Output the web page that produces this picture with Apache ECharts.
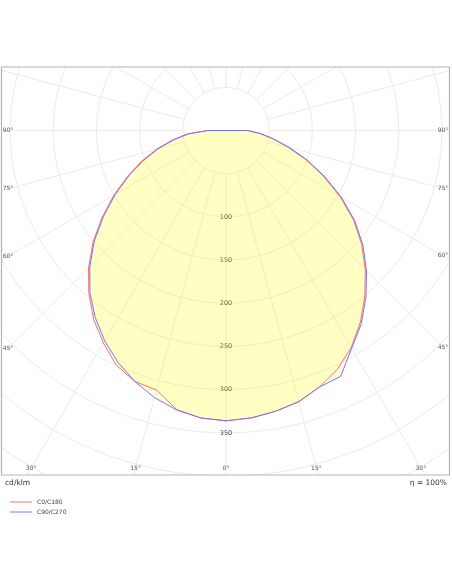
<!DOCTYPE html>
<html lang="en">
<head>
    <meta charset="UTF-8"/>
    <title>LVK</title>
    <script type="text/javascript" src="https://cdn.jsdelivr.net/npm/echarts@6/dist/echarts.min.js"></script>
    <style>
        html, body { margin: 0; padding: 0; background: #fff; }
        #main { width: 452px; height: 584px; }
    </style>
</head>
<body>
<div id="main"></div>
<script type="text/javascript">
    // gamma angles from nadir, one value per 5 degrees
    var gamma = [0, 5, 10, 15, 20, 25, 30, 35, 40, 45, 50, 55, 60, 65, 70, 75, 80, 85, 90];
    // cd/klm, right and left half of each plane
    var c0   = [336, 334, 330, 325, 316, 305, 290, 271, 250, 228, 205, 180, 152, 124, 98, 74, 55, 39, 25];
    var c180 = [336, 334, 328, 311, 309, 300, 284, 267, 247, 225, 201, 175, 150, 126, 104, 83, 63, 45, 21];
    var c90  = [336, 334, 330, 325, 316, 314, 291, 273, 252, 230, 207, 182, 154, 126, 100, 76, 56, 40, 25];
    var c270 = [336, 334, 328.5, 320, 309, 296, 281, 264, 245, 223, 199, 173, 148, 124, 102, 81, 61, 43, 21];
    var seriesNames = ['C0/C180', 'C90/C270'];
    var ringLabels = [100, 150, 200, 250, 300, 350];
    var sideLabels = [90, 75, 60, 45];
    var bottomLabels = [30, 15, 0];

    var cx = 226, cy = 130.5;          // polar centre
    var pxPerUnit = 0.864;
    var rMax = 500;
    var box = {x: 1.5, y: 67, w: 448, h: 408};

    // closed outline: right half 0..90, then left half 90..0
    function outline(right, left) {
        var pts = [];
        for (var i = 0; i < gamma.length; i++) pts.push([right[i], gamma[i]]);
        for (var j = gamma.length - 1; j >= 0; j--) pts.push([left[j], 360 - gamma[j]]);
        return pts;
    }

    var txt = {fontFamily: 'DejaVu Sans', fontSize: 6, fill: '#555'};
    var graphics = [
        // white masks so the grid stops at the frame
        {type: 'rect', z: 50, shape: {x: 0, y: 0, width: 452, height: box.y}, style: {fill: '#fff'}},
        {type: 'rect', z: 50, shape: {x: 0, y: box.y + box.h, width: 452, height: 584}, style: {fill: '#fff'}},
        {type: 'rect', z: 50, shape: {x: 0, y: 0, width: box.x, height: 584}, style: {fill: '#fff'}},
        {type: 'rect', z: 50, shape: {x: box.x + box.w, y: 0, width: 10, height: 584}, style: {fill: '#fff'}},
        {type: 'rect', z: 55, shape: {x: box.x, y: box.y, width: box.w, height: box.h},
            style: {fill: null, stroke: '#b4b4b4', lineWidth: 1.2}},
        {type: 'text', z: 60, left: 5, top: 479,
            style: {text: 'cd/klm', fontFamily: 'DejaVu Sans', fontSize: 7.5, fill: '#333'}},
        {type: 'text', z: 60, right: 5, top: 479,
            style: {text: 'η = 100%', fontFamily: 'DejaVu Sans', fontSize: 7.5, fill: '#333'}}
    ];

    // degree labels where the spokes meet the frame
    sideLabels.forEach(function (d) {
        var t = Math.tan(d * Math.PI / 180);
        var yl = d === 90 ? cy : cy + (cx - 8) / t;
        var yr = d === 90 ? cy : cy + (443 - cx) / t;
        graphics.push({type: 'text', z: 60, x: 8, y: yl,
            style: Object.assign({text: d + '°', textAlign: 'center', textVerticalAlign: 'middle'}, txt)});
        graphics.push({type: 'text', z: 60, x: 443, y: yr,
            style: Object.assign({text: d + '°', textAlign: 'center', textVerticalAlign: 'middle'}, txt)});
    });
    bottomLabels.forEach(function (d) {
        var off = (468 - cy) * Math.tan(d * Math.PI / 180);
        var xs = d === 0 ? [cx] : [cx - off, cx + off];
        xs.forEach(function (x) {
            graphics.push({type: 'text', z: 60, x: x, y: 468,
                style: Object.assign({text: d + '°', textAlign: 'center', textVerticalAlign: 'middle'}, txt)});
        });
    });

    var gridColor = '#ebebeb';
    var fill = 'rgba(255,255,0,0.125)';
    var myChart = echarts.init(document.getElementById('main'));
    var option = {
        animation: false,
        backgroundColor: '#fff',
        polar: [
            {center: [cx, cy], radius: rMax * pxPerUnit},
            {center: [cx, cy], radius: [50 * pxPerUnit, rMax * pxPerUnit]}
        ],
        angleAxis: [
            {polarIndex: 0, type: 'value', min: 0, max: 360, startAngle: 270, clockwise: false,
                axisLine: {show: false}, axisTick: {show: false}, axisLabel: {show: false}, splitLine: {show: false}},
            {polarIndex: 1, type: 'value', min: 0, max: 360, interval: 15, startAngle: 270, clockwise: false,
                axisLine: {show: false}, axisTick: {show: false}, axisLabel: {show: false},
                splitLine: {show: true, lineStyle: {color: gridColor, width: 1}}}
        ],
        radiusAxis: [
            {polarIndex: 0, type: 'value', min: 0, max: rMax, interval: 50,
                axisLine: {show: false}, axisTick: {show: false},
                axisLabel: {
                    show: true, margin: 0, align: 'center', verticalAlign: 'middle',
                    fontFamily: 'DejaVu Sans', fontSize: 6.5, color: '#444',
                    formatter: function (v) { return ringLabels.indexOf(v) >= 0 ? String(v) : ''; }
                },
                splitLine: {show: true, lineStyle: {color: gridColor, width: 1}}},
            {polarIndex: 1, type: 'value', min: 50, max: rMax,
                axisLine: {show: false}, axisTick: {show: false}, axisLabel: {show: false}, splitLine: {show: false}}
        ],
        legend: {
            z: 60, orient: 'vertical', left: 5, top: 493,
            icon: 'rect', itemWidth: 22, itemHeight: 1, itemGap: 2,
            textStyle: {fontFamily: 'DejaVu Sans', fontSize: 6, color: '#444', lineHeight: 8},
            data: seriesNames
        },
        graphic: graphics,
        series: [
            {
                name: seriesNames[0], type: 'line', coordinateSystem: 'polar', polarIndex: 0,
                symbol: 'none', data: outline(c0, c180),
                itemStyle: {color: '#ff6f6f'},
                lineStyle: {color: '#ff6f6f', width: 1},
                areaStyle: {color: fill, opacity: 1}
            },
            {
                name: seriesNames[1], type: 'line', coordinateSystem: 'polar', polarIndex: 0,
                symbol: 'none', data: outline(c90, c270),
                itemStyle: {color: '#7474ff'},
                lineStyle: {color: '#7474ff', width: 1},
                areaStyle: {color: fill, opacity: 1}
            }
        ]
    };
    myChart.setOption(option);
</script>
</body>
</html>
